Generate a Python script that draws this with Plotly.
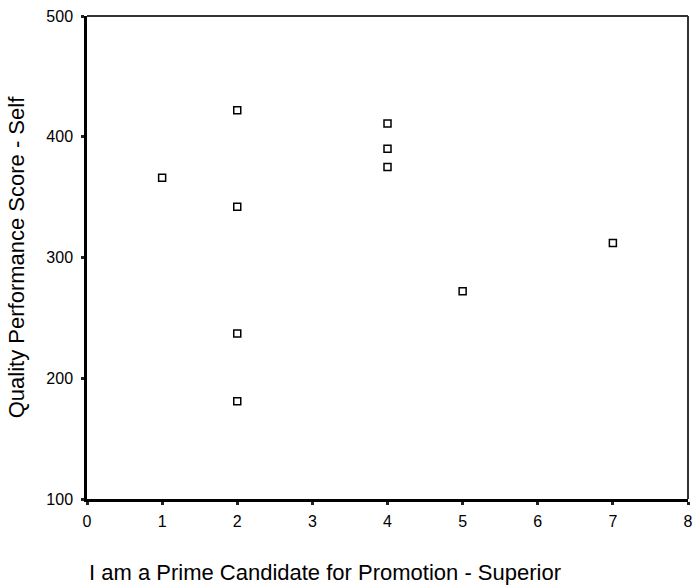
import plotly.graph_objects as go

x_vals = [1, 2, 2, 2, 2, 4, 4, 4, 5, 7]
y_vals = [366, 422, 342, 237, 181, 411, 390, 375, 272, 312]
x_ticks = [0, 1, 2, 3, 4, 5, 6, 7, 8]
y_ticks = [100, 200, 300, 400, 500]
x_title = "I am a Prime Candidate for Promotion - Superior"
y_title = "Quality Performance Score - Self"

FONT = "Liberation Sans, Arial, sans-serif"

fig = go.Figure(go.Scatter(
    x=x_vals, y=y_vals, mode="markers",
    marker=dict(symbol="square-open", size=7, color="black", line=dict(width=1.5, color="black")),
    showlegend=False, cliponaxis=False, hoverinfo="skip",
))

axis_common = dict(
    showgrid=False, zeroline=False, showline=True, linecolor="black", linewidth=2.5,
    mirror=False, ticks="outside", ticklen=3, tickwidth=3, tickcolor="#222",
    tickfont=dict(family=FONT, size=16, color="black"),
    automargin=False, ticklabeloverflow="allow",
)

fig.update_layout(
    width=693, height=588,
    margin=dict(l=87, r=5, t=16, b=89),
    paper_bgcolor="white", plot_bgcolor="white",
    font=dict(family=FONT, color="black"),
    xaxis=dict(range=[0, 8], tickvals=x_ticks, ticklabelstandoff=3, **axis_common),
    yaxis=dict(range=[100, 500], tickvals=y_ticks, ticklabelstandoff=5,
               title=dict(text=y_title, font=dict(size=22), standoff=16), **axis_common),
    shapes=[
        dict(type="line", xref="paper", yref="paper", x0=0, x1=1, y0=1, y1=1,
             line=dict(color="#333", width=2)),
        dict(type="line", xref="paper", yref="paper", x0=1, x1=1, y0=0, y1=1,
             line=dict(color="#333", width=2)),
    ],
    annotations=[dict(
        text=x_title, xref="paper", yref="paper", x=0, y=0,
        xanchor="left", yanchor="middle", xshift=0, yshift=-73,
        showarrow=False, font=dict(family=FONT, size=22, color="black"),
    )],
)

fig.write_html(
    "out.html",
    config={"displayModeBar": False},
    post_script="document.body.style.margin='0';document.body.style.overflow='hidden';",
)
